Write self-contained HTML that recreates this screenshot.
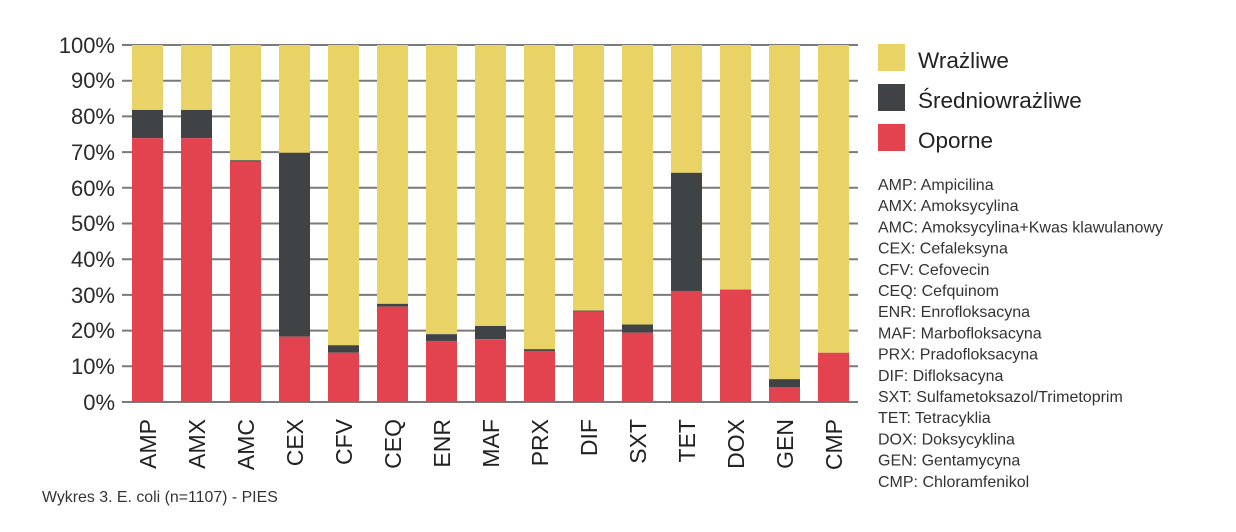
<!DOCTYPE html>
<html><head><meta charset="utf-8"><style>
body{margin:0;background:#fff;}
svg{display:block;font-family:"Liberation Sans",sans-serif;}
</style></head><body>
<svg width="1236" height="532" viewBox="0 0 1236 532" xmlns="http://www.w3.org/2000/svg">
<g stroke="#7a7a7a" stroke-width="2">
<line x1="122" x2="858" y1="45" y2="45"/><line x1="122" x2="858" y1="80.7" y2="80.7"/>
<line x1="122" x2="858" y1="116.4" y2="116.4"/><line x1="122" x2="858" y1="152.1" y2="152.1"/>
<line x1="122" x2="858" y1="187.8" y2="187.8"/><line x1="122" x2="858" y1="223.5" y2="223.5"/>
<line x1="122" x2="858" y1="259.2" y2="259.2"/><line x1="122" x2="858" y1="294.9" y2="294.9"/>
<line x1="122" x2="858" y1="330.6" y2="330.6"/><line x1="122" x2="858" y1="366.3" y2="366.3"/>
<line x1="122" x2="858" y1="402" y2="402"/>
</g>
<g font-size="22" fill="#2a2a2a" text-anchor="end">
<text x="115" y="53">100%</text><text x="115" y="88">90%</text><text x="115" y="124">80%</text>
<text x="115" y="160">70%</text><text x="115" y="196">60%</text><text x="115" y="231">50%</text>
<text x="115" y="267">40%</text><text x="115" y="303">30%</text><text x="115" y="338">20%</text>
<text x="115" y="374">10%</text><text x="115" y="410">0%</text>
</g>
<g id="bars"></g>
<g font-size="23" fill="#222" id="labels"></g>
<rect x="878" y="44" width="27" height="27" fill="#e9d366"/>
<rect x="878" y="84" width="27" height="27" fill="#404345"/>
<rect x="878" y="124" width="27" height="27" fill="#e2434f"/>
<g font-size="22.5" fill="#222">
<text x="918" y="68">Wrażliwe</text>
<text x="918" y="108">Średniowrażliwe</text>
<text x="918" y="148">Oporne</text>
</g>
<g font-size="16" fill="#333">
<text x="878" y="190">AMP: Ampicilina</text>
<text x="878" y="211.2">AMX: Amoksycylina</text>
<text x="878" y="232.4">AMC: Amoksycylina+Kwas klawulanowy</text>
<text x="878" y="253.6">CEX: Cefaleksyna</text>
<text x="878" y="274.8">CFV: Cefovecin</text>
<text x="878" y="296">CEQ: Cefquinom</text>
<text x="878" y="317.2">ENR: Enrofloksacyna</text>
<text x="878" y="338.4">MAF: Marbofloksacyna</text>
<text x="878" y="359.6">PRX: Pradofloksacyna</text>
<text x="878" y="380.8">DIF: Difloksacyna</text>
<text x="878" y="402">SXT: Sulfametoksazol/Trimetoprim</text>
<text x="878" y="423.2">TET: Tetracyklia</text>
<text x="878" y="444.4">DOX: Doksycyklina</text>
<text x="878" y="465.6">GEN: Gentamycyna</text>
<text x="878" y="486.8">CMP: Chloramfenikol</text>
</g>
<text x="42" y="502" font-size="15.9" fill="#333">Wykres 3. E. coli (n=1107) - PIES</text>
<script>
var d=[["AMP",73.9,81.8],["AMX",73.9,81.8],["AMC",67.3,67.7],["CEX",18.3,69.8],["CFV",13.8,15.9],["CEQ",26.7,27.5],["ENR",17.1,19.0],["MAF",17.6,21.3],["PRX",14.3,14.8],["DIF",25.3,25.6],["SXT",19.4,21.7],["TET",31.1,64.2],["DOX",31.5,31.5],["GEN",4.1,6.4],["CMP",13.8,13.8]];
var ns="http://www.w3.org/2000/svg",b=document.getElementById("bars"),l=document.getElementById("labels");
function y(p){return 402-p*3.57;}
function r(x,y1,y2,c){var e=document.createElementNS(ns,"rect");e.setAttribute("x",x);e.setAttribute("width",31);e.setAttribute("y",y1);e.setAttribute("height",Math.max(0,y2-y1));e.setAttribute("fill",c);b.appendChild(e);}
d.forEach(function(v,i){var x=132+49*i;
r(x,45,y(v[2]),"#e9d366");r(x,y(v[2]),y(v[1]),"#404345");r(x,y(v[1]),402,"#e2434f");
var t=document.createElementNS(ns,"text");var cx=x+15.5+8.5;t.setAttribute("transform","translate("+cx+",419) rotate(-90)");t.setAttribute("text-anchor","end");t.textContent=v[0];l.appendChild(t);});
</script>
</svg>
</body></html>
